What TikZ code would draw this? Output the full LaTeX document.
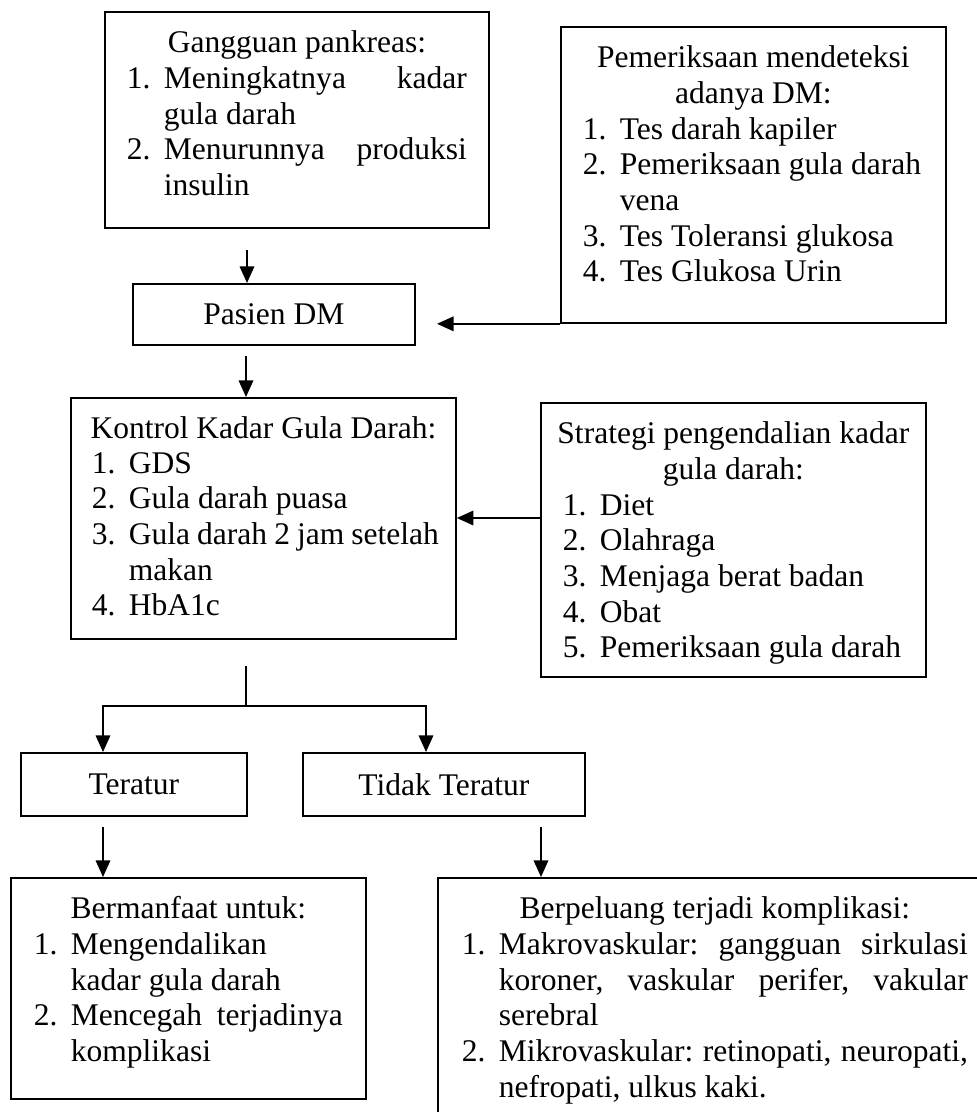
\documentclass[tikz,border=0pt]{standalone}
\usepackage{fontspec}
\setmainfont{Liberation Serif}
\usetikzlibrary{arrows.meta}
\newlength\pxu \setlength\pxu{0.387pt}
\newlength\hangw \setlength\hangw{37\pxu}
\tolerance=10000 \hbadness=10000 \hfuzz=20pt \hyphenpenalty=10000 \exhyphenpenalty=10000
\newcommand\litem[1]{\par\hangindent=\hangw\hangafter=1\noindent\makebox[\hangw][l]{#1}\ignorespaces}
\newcommand\headline[1]{\par\noindent\makebox[\linewidth]{\strut#1}\par}
\newcommand\bodybox[4]{%
  \parbox[c][#2\pxu][t]{#1\pxu}{%
    \vspace*{\dimexpr41\pxu-\ht\strutbox\relax}%
    \noindent\hspace*{#3\pxu}%
    \parbox[t]{\dimexpr#1\pxu-#3\pxu-#3\pxu\relax}{#4}}}
\begin{document}
\begin{tikzpicture}[x=0.387pt, y=-0.387pt,
  font=\fontsize{12.2pt}{13.8pt}\selectfont,
  box/.style={draw, line width=0.7pt, inner sep=0pt, anchor=north west},
  conn/.style={line width=0.7pt},
  arr/.style={conn, -{Triangle[width=5.6pt, length=6.4pt]}}]
\useasboundingbox (0,0) rectangle (977,1112);
\clip (0,0) rectangle (977,1112);

% boxes
\node[box] (gang) at (104,11) {\bodybox{384}{216}{22}{%
  \headline{Gangguan pankreas:}%
  \litem{1.}Meningkatnya~kadar\linebreak gula~darah
  \litem{2.}Menurunnya~produksi\linebreak insulin}};

\node[box] (periksa) at (560,26) {\bodybox{385}{296}{22}{%
  \headline{Pemeriksaan mendeteksi}%
  \headline{adanya DM:}%
  \litem{1.}Tes~darah~kapiler
  \litem{2.}Pemeriksaan~gula~darah\newline vena
  \litem{3.}Tes~Toleransi~glukosa
  \litem{4.}Tes~Glukosa~Urin}};

\node[box, minimum width=282*0.387pt, minimum height=61*0.387pt] (pasien) at (132,283) {Pasien DM};

\node[box] (kontrol) at (70,397) {\bodybox{385}{241}{17}{%
  \headline{Kontrol Kadar Gula Darah:}%
  \hspace*{4\pxu}\parbox{\dimexpr\linewidth-4\pxu\relax}{%
  \litem{1.}GDS
  \litem{2.}Gula~darah~puasa
  \litem{3.}Gula~darah~2~jam~setelah\newline makan
  \litem{4.}HbA1c}}};

\node[box] (strategi) at (540,402) {\bodybox{385}{274}{22}{%
  \headline{Strategi pengendalian kadar}%
  \headline{gula darah:}%
  \litem{1.}Diet
  \litem{2.}Olahraga
  \litem{3.}Menjaga~berat~badan
  \litem{4.}Obat
  \litem{5.}Pemeriksaan~gula~darah}};

\node[box, minimum width=226*0.387pt, minimum height=63*0.387pt] (teratur) at (20,752) {Teratur};
\node[box, minimum width=282*0.387pt, minimum height=63*0.387pt] (tidak) at (302,752) {Tidak Teratur};

\node[box] (manfaat) at (10,877) {\bodybox{355}{221}{23}{%
  \headline{Bermanfaat untuk:}%
  \litem{1.}Mengendalikan\newline kadar~gula~darah
  \litem{2.}Mencegah~terjadinya\linebreak komplikasi}};

\node[box] (peluang) at (437,877) {\bodybox{554}{262}{24}{%
  \headline{Berpeluang terjadi komplikasi:}%
  \litem{1.}Makrovaskular:~gangguan~sirkulasi\linebreak koroner,~vaskular~perifer,~vakular\linebreak serebral
  \litem{2.}Mikrovaskular:~retinopati,~neuropati,\linebreak nefropati,~ulkus~kaki.}};

% connectors
\coordinate (c1) at (247,250);
\draw[arr] (c1) -- (c1 |- pasien.north);
\coordinate (c2) at (437,322);
\draw[arr] (periksa.south west) -- (periksa.south west -| c2);
\coordinate (c3) at (246,356);
\draw[arr] (c3) -- (c3 |- kontrol.north);
\coordinate (c4) at (0,518);
\draw[arr] (strategi.west |- c4) -- (kontrol.east |- c4);
\coordinate (c5) at (246,666);
\coordinate (bl) at (103,706);
\coordinate (br) at (426,706);
\draw[conn] (c5) -- (c5 |- bl);
\draw[arr] (c5 |- bl) -| (bl |- teratur.north);
\draw[arr] (c5 |- bl) -| (br |- tidak.north);
\coordinate (c6) at (103,827);
\draw[arr] (c6) -- (c6 |- manfaat.north);
\coordinate (c7) at (541,827);
\draw[arr] (c7) -- (c7 |- peluang.north);
\end{tikzpicture}
\end{document}
